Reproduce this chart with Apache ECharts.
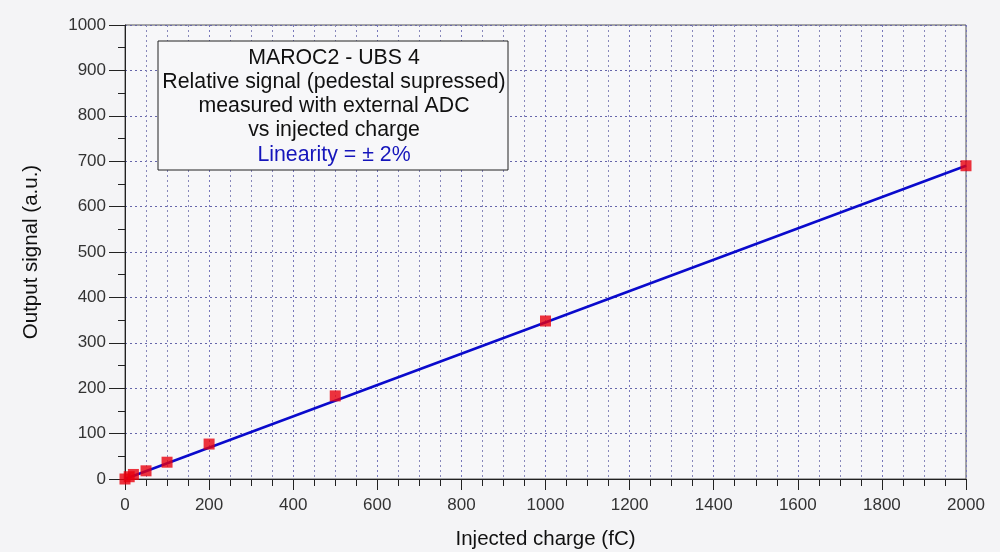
<!DOCTYPE html>
<html><head><meta charset="utf-8">
<script src="https://cdn.jsdelivr.net/npm/echarts@6/dist/echarts.min.js"></script>
<style>html,body{margin:0;padding:0;background:#f4f4f6}#c{width:1000px;height:552px}</style>
</head><body><div id="c"></div>
<script>
const chargeFC = [0, 10, 20, 50, 100, 200, 500, 1000, 2000];
const outputSignal = [0, 5, 10, 18, 37, 77, 183, 348, 690];
const fitX = [0, 2000];
const fitY = [0, 690];
const xTitle = 'Injected charge (fC)';
const yTitle = 'Output signal (a.u.)';
const boxLines = ['MAROC2 - UBS 4', 'Relative signal (pedestal supressed)', 'measured with external ADC', 'vs injected charge'];
const boxLinearity = 'Linearity = ± 2%';

const chart = echarts.init(document.getElementById('c'));
const font = 'Liberation Sans, Arial, sans-serif';
chart.setOption({
  backgroundColor: '#f4f4f6',
  animation: false,
  grid: {left: 125, right: 34, top: 25, bottom: 73, containLabel: false, outerBoundsMode: 'none', show: true, borderColor: '#555', borderWidth: 1, backgroundColor: '#f7f7f9'},
  xAxis: {
    type: 'value', min: 0, max: 2000, interval: 200,
    name: xTitle, nameLocation: 'middle', nameGap: 50,
    nameTextStyle: {fontFamily: font, fontSize: 20.5, color: '#111'},
    axisLine: {show: true, onZero: false, lineStyle: {color: '#222', width: 1}},
    axisTick: {show: true, length: 11, lineStyle: {color: '#222'}},
    minorTick: {show: true, splitNumber: 4, length: 7, lineStyle: {color: '#222'}},
    axisLabel: {fontFamily: font, fontSize: 17, color: '#333', margin: 18, formatter: v => String(v)},
    splitLine: {show: true, lineStyle: {color: '#7777bb', type: [2, 3], width: 1}},
    minorSplitLine: {show: true, lineStyle: {color: '#8888bb', type: [2, 3], width: 1}}
  },
  yAxis: {
    type: 'value', min: 0, max: 1000, interval: 100,
    name: yTitle, nameLocation: 'middle', nameGap: 83, nameRotate: 90,
    nameTextStyle: {fontFamily: font, fontSize: 20.5, color: '#111'},
    axisLine: {show: true, onZero: false, lineStyle: {color: '#222', width: 1}},
    axisTick: {show: true, length: 16, lineStyle: {color: '#222'}},
    minorTick: {show: true, splitNumber: 2, length: 7, lineStyle: {color: '#222'}},
    axisLabel: {fontFamily: font, fontSize: 17, color: '#333', margin: 19, formatter: v => String(v)},
    splitLine: {show: true, lineStyle: {color: '#6666aa', type: [2, 3], width: 1}}
  },
  series: [
    {
      type: 'line', data: fitX.map((x, i) => [x, fitY[i]]),
      symbol: 'none', lineStyle: {color: '#0a0acc', width: 2.5}, z: 2
    },
    {
      type: 'scatter', data: chargeFC.map((x, i) => [x, outputSignal[i]]),
      symbol: 'rect', symbolSize: 11, itemStyle: {color: '#e8000e'}, z: 3
    }
  ],
  graphic: [
    {type: 'rect', shape: {x: 158, y: 41, width: 350, height: 129}, style: {fill: '#f7f7f9', stroke: '#222', lineWidth: 1}, z: 10},
    ...boxLines.map((t, i) => ({type: 'text', x: 334, y: 58 + i * 24, style: {text: t, fontFamily: font, fontSize: 21.3, fill: '#111', align: 'center', verticalAlign: 'middle'}, z: 11})),
    {type: 'text', x: 334, y: 155, style: {text: boxLinearity, fontFamily: font, fontSize: 21.3, fill: '#1515bb', align: 'center', verticalAlign: 'middle'}, z: 11}
  ]
});
</script></body></html>
